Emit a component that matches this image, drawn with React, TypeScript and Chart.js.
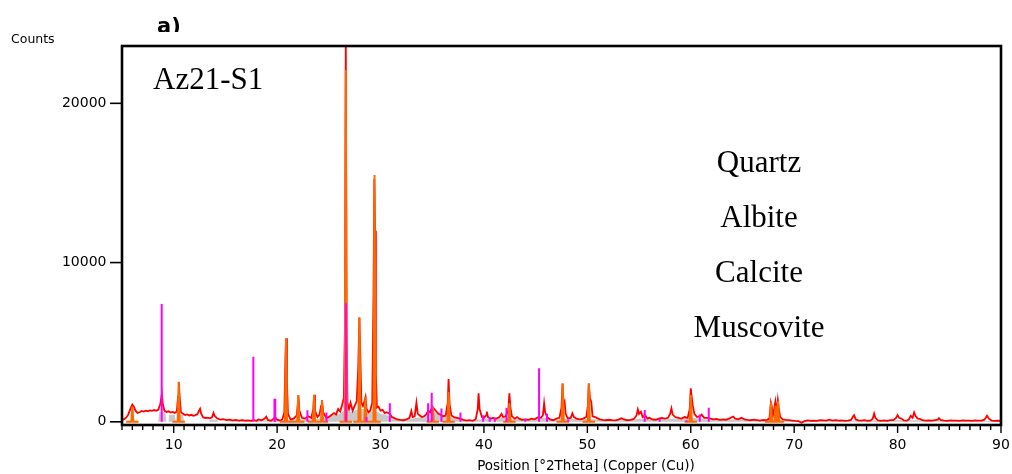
import React, { useEffect, useRef } from "react";
import { Chart, registerables } from "chart.js";

Chart.register(...registerables);

// ---------- data ----------
// measured diffractogram (red): [2theta, counts]
const measuredTrace: [number, number][] = [
  [5.0, 120], [5.2, 170], [5.4, 260], [5.6, 450], [5.8, 800], [6.0, 1080], [6.15, 950], [6.3, 700],
  [6.5, 560], [6.7, 600], [6.9, 680], [7.1, 640], [7.3, 700], [7.5, 660], [7.7, 720], [7.9, 690],
  [8.1, 740], [8.3, 700], [8.5, 760], [8.7, 1100], [8.85, 1750], [8.95, 1100], [9.1, 700], [9.3, 620],
  [9.5, 660], [9.7, 580], [9.9, 620], [10.1, 560], [10.3, 650], [10.42, 1600], [10.5, 2500], [10.58, 1500],
  [10.7, 600], [10.9, 500], [11.1, 430], [11.3, 460], [11.5, 400], [11.7, 440], [11.9, 380], [12.1, 420],
  [12.3, 480], [12.45, 700], [12.55, 820], [12.65, 520], [12.85, 280], [13.1, 240], [13.3, 260], [13.5, 220],
  [13.7, 280], [13.85, 560], [13.95, 380], [14.2, 220], [14.5, 140], [14.8, 170], [15.1, 110], [15.4, 140],
  [15.7, 90], [16.0, 120], [16.3, 80], [16.6, 110], [16.9, 70], [17.2, 90], [17.5, 60], [17.7, 120],
  [18.0, 60], [18.2, 150], [18.5, 100], [18.8, 200], [18.95, 320], [19.1, 120], [19.4, 60], [19.6, 150],
  [19.8, 300], [20.0, 130], [20.3, 80], [20.5, 150], [20.7, 600], [20.8, 3800], [20.86, 5250], [20.95, 2500],
  [21.05, 500], [21.3, 150], [21.6, 200], [21.9, 400], [22.0, 1100], [22.06, 1650], [22.15, 700], [22.4, 250],
  [22.7, 200], [23.0, 350], [23.3, 250], [23.5, 800], [23.58, 1700], [23.66, 700], [23.9, 300], [24.1, 450],
  [24.25, 1000], [24.34, 1350], [24.45, 600], [24.7, 300], [24.9, 250], [25.2, 400], [25.5, 550], [25.7, 450],
  [25.9, 800], [26.1, 650], [26.3, 1100], [26.45, 1500], [26.56, 6000], [26.64, 24500], [26.72, 6000], [26.8, 1200],
  [26.95, 800], [27.1, 1200], [27.3, 700], [27.5, 1000], [27.7, 1300], [27.85, 3500], [27.95, 6550], [28.05, 4000],
  [28.15, 1200], [28.3, 1000], [28.45, 1300], [28.55, 1550], [28.65, 800], [28.85, 600], [29.0, 700], [29.2, 1200],
  [29.32, 8000], [29.4, 15250], [29.48, 12000], [29.55, 3000], [29.65, 900], [29.8, 950], [30.0, 700], [30.2, 750],
  [30.4, 550], [30.6, 600], [30.9, 500], [31.1, 300], [31.3, 250], [31.6, 150], [31.9, 120], [32.2, 100],
  [32.5, 150], [32.8, 250], [32.98, 670], [33.1, 300], [33.3, 350], [33.47, 1200], [33.6, 500], [33.8, 400],
  [34.0, 300], [34.2, 350], [34.4, 450], [34.6, 700], [34.8, 600], [35.0, 950], [35.2, 800], [35.4, 650],
  [35.6, 500], [35.8, 450], [36.0, 350], [36.3, 380], [36.5, 1200], [36.58, 2690], [36.68, 1100], [36.85, 400],
  [37.1, 300], [37.4, 250], [37.7, 200], [38.0, 120], [38.3, 80], [38.6, 100], [38.9, 60], [39.2, 150],
  [39.4, 800], [39.48, 1790], [39.58, 800], [39.8, 300], [40.0, 250], [40.2, 400], [40.28, 640], [40.38, 300],
  [40.6, 200], [40.9, 250], [41.2, 200], [41.5, 300], [41.7, 500], [41.85, 300], [42.1, 350], [42.35, 700],
  [42.46, 1790], [42.56, 900], [42.7, 350], [43.0, 200], [43.2, 300], [43.4, 200], [43.7, 120], [44.0, 150],
  [44.3, 120], [44.6, 200], [44.9, 160], [45.2, 280], [45.5, 250], [45.7, 400], [45.82, 1160], [45.92, 600],
  [46.1, 300], [46.4, 150], [46.7, 100], [47.0, 200], [47.3, 250], [47.5, 900], [47.6, 2410], [47.7, 1100],
  [47.8, 1260], [47.9, 500], [48.1, 220], [48.4, 250], [48.55, 530], [48.7, 300], [49.0, 180], [49.3, 150],
  [49.6, 200], [49.9, 300], [50.05, 1000], [50.14, 2410], [50.25, 1500], [50.38, 1250], [50.5, 350], [50.75, 300],
  [50.9, 250], [51.2, 160], [51.5, 120], [51.8, 100], [52.1, 130], [52.4, 100], [52.7, 90], [53.0, 140],
  [53.3, 220], [53.6, 130], [53.9, 100], [54.2, 120], [54.5, 180], [54.75, 400], [54.88, 780], [55.0, 500],
  [55.18, 630], [55.35, 300], [55.6, 400], [55.8, 200], [56.0, 250], [56.3, 150], [56.6, 130], [56.9, 200],
  [57.2, 250], [57.5, 200], [57.8, 250], [58.0, 500], [58.13, 840], [58.25, 450], [58.5, 300], [58.8, 250],
  [59.1, 200], [59.4, 300], [59.7, 250], [59.9, 800], [60.0, 2100], [60.1, 1500], [60.2, 1000], [60.35, 500],
  [60.6, 300], [60.9, 350], [61.05, 450], [61.3, 250], [61.6, 250], [61.9, 200], [62.2, 150], [62.5, 180],
  [62.8, 120], [63.1, 150], [63.4, 130], [63.7, 200], [64.0, 300], [64.1, 330], [64.3, 200], [64.6, 160],
  [64.9, 250], [65.2, 150], [65.5, 120], [65.8, 100], [66.1, 140], [66.4, 110], [66.7, 80], [67.0, 120],
  [67.3, 90], [67.6, 200], [67.75, 1200], [67.85, 900], [67.95, 400], [68.05, 700], [68.18, 1260], [68.3, 600],
  [68.42, 1360], [68.52, 800], [68.65, 300], [68.9, 150], [69.2, 120], [69.5, 100], [69.8, 80], [70.1, 60],
  [70.4, 50], [70.7, -60], [71.0, 40], [71.3, 90], [71.6, 60], [71.9, 80], [72.2, 60], [72.5, 110],
  [72.8, 90], [73.1, 70], [73.4, 130], [73.7, 80], [74.0, 100], [74.3, 70], [74.6, 90], [74.9, 60],
  [75.2, 80], [75.5, 120], [75.7, 350], [75.8, 420], [75.95, 150], [76.2, 90], [76.5, 70], [76.8, 100],
  [77.1, 60], [77.4, 90], [77.6, 200], [77.73, 520], [77.85, 250], [78.1, 90], [78.4, 60], [78.7, 90],
  [79.0, 60], [79.3, 100], [79.6, 110], [79.85, 250], [80.0, 420], [80.15, 250], [80.37, 200], [80.6, 90],
  [80.9, 80], [81.1, 150], [81.27, 380], [81.45, 260], [81.6, 590], [81.75, 350], [81.95, 200], [82.15, 180],
  [82.4, 100], [82.7, 80], [83.0, 90], [83.3, 70], [83.6, 100], [83.9, 140], [84.0, 230], [84.15, 120],
  [84.5, 80], [84.8, 60], [85.1, 90], [85.4, 70], [85.7, 80], [86.0, 60], [86.3, 90], [86.6, 70],
  [86.9, 80], [87.2, 60], [87.5, 90], [87.8, 70], [88.1, 80], [88.4, 130], [88.65, 380], [88.85, 180],
  [89.1, 80], [89.4, 60], [89.7, 70], [90.0, 60],
];

// calculated / background profile (grey area)
const calculatedTrace: [number, number][] = [
  [5.0, 0], [8.5, 0], [8.6, 600], [9.2, 600], [9.3, 0], [9.5, 0], [9.55, 450], [10.1, 450], [10.2, 0],
  [10.35, 0], [10.4, 450], [10.9, 450], [11.0, 0], [13.4, 0], [13.5, 150], [14.2, 150], [14.3, 0], [15.0, 0],
  [15.5, 60], [17.5, 60], [18.0, 80], [20.5, 80], [21.0, 100], [22.0, 150], [23.0, 150], [24.0, 200],
  [25.0, 300], [25.5, 450], [26.0, 500], [26.5, 700], [27.0, 600], [27.5, 700], [28.0, 800], [28.5, 800],
  [29.0, 600], [29.5, 700], [30.0, 500], [30.5, 450], [31.0, 300], [32.0, 150], [33.0, 200], [34.0, 300],
  [34.5, 400], [35.0, 700], [35.5, 500], [36.0, 350], [36.5, 350], [37.0, 250], [38.0, 150], [39.0, 100],
  [40.0, 200], [41.0, 200], [42.0, 300], [43.0, 200], [44.0, 120], [45.0, 200], [46.0, 250], [47.0, 150],
  [48.0, 200], [49.0, 150], [50.0, 200], [51.0, 150], [52.0, 80], [54.0, 100], [55.0, 200], [56.0, 150],
  [58.0, 200], [60.0, 250], [61.0, 200], [62.0, 120], [64.0, 150], [66.0, 100], [68.0, 200], [69.0, 100],
  [72.0, 50], [76.0, 60], [80.0, 100], [82.0, 100], [84.0, 70], [88.0, 60], [90.0, 50],
];

// reference peaks: quartz / calcite / albite (orange) [2theta, counts]
const orangePeaks: [number, number][] = [
  [6.0, 950], [10.48, 2520], [20.86, 5250], [22.04, 1680], [23.57, 1680], [24.34, 1320], [26.64, 22100],
  [27.96, 6550], [28.54, 1570], [29.42, 15500], [35.05, 950], [36.58, 1890], [42.46, 1160], [47.62, 2410],
  [50.14, 2410], [60.0, 1680], [67.76, 1220], [68.2, 1000], [68.44, 1300],
];

// reference peaks: muscovite (magenta) [2theta, counts]
const magentaPeaks: [number, number][] = [
  [8.84, 7400], [17.7, 4090], [19.74, 1450], [19.82, 1450], [22.93, 720], [24.77, 590], [26.66, 7450],
  [28.64, 300], [30.9, 1170], [34.6, 1170], [34.95, 1830], [35.89, 840], [37.73, 590], [39.92, 420],
  [40.56, 300], [41.05, 250], [42.18, 860], [44.0, 200], [45.33, 3360], [46.1, 500], [48.15, 150],
  [55.55, 740], [57.0, 200], [59.6, 100], [60.87, 460], [61.74, 880],
];

const xTickValues = [10, 20, 30, 40, 50, 60, 70, 80, 90];
const yTickValues = [0, 10000, 20000];
const phaseLabels = ["Quartz", "Albite", "Calcite", "Muscovite"];
const sampleName = "Az21-S1";
const panelLabel = "a)";
const yAxisLabel = "Counts";
const xAxisLabel = "Position [°2Theta] (Copper (Cu))";

const SANS = "'DejaVu Sans', Verdana, sans-serif";
const SERIF = "'Liberation Serif', 'Times New Roman', serif";

function buildProfiles(peaks: [number, number][], halfBase: number, halfPeak: number) {
  const pts: { x: number; y: number | null }[] = [];
  for (const [p, h] of peaks) {
    pts.push(
      { x: p - halfBase, y: 0 },
      { x: p - halfPeak, y: 0 },
      { x: p, y: h },
      { x: p + halfPeak, y: 0 },
      { x: p + halfBase, y: 0 },
      { x: p + halfBase, y: null }
    );
  }
  return pts;
}

function buildSticks(peaks: [number, number][]) {
  const pts: { x: number; y: number | null }[] = [];
  for (const [p, h] of peaks) {
    pts.push({ x: p, y: 0 }, { x: p, y: h }, { x: p, y: null });
  }
  return pts;
}

const overlayPlugin = {
  id: "overlay",
  afterDraw(chart: any) {
    const { ctx, chartArea: ca, scales } = chart;
    const xs = scales.x;
    const ys = scales.y;
    ctx.save();
    ctx.strokeStyle = "#000";
    ctx.fillStyle = "#000";
    // x ticks (minor every degree, major every 10)
    ctx.lineWidth = 1.4;
    for (let v = 5; v <= 90; v++) {
      const px = xs.getPixelForValue(v);
      const len = xTickValues.includes(v) ? 8 : 5;
      ctx.beginPath();
      ctx.moveTo(px, ca.bottom);
      ctx.lineTo(px, ca.bottom + len);
      ctx.stroke();
    }
    // y ticks
    ctx.lineWidth = 1.6;
    for (const v of yTickValues) {
      const py = ys.getPixelForValue(v);
      ctx.beginPath();
      ctx.moveTo(ca.left - 12, py);
      ctx.lineTo(ca.left, py);
      ctx.stroke();
    }
    // frame
    ctx.lineWidth = 2.6;
    ctx.strokeRect(ca.left, ca.top, ca.right - ca.left, ca.bottom - ca.top);

    // texts
    ctx.textBaseline = "alphabetic";
    ctx.textAlign = "left";
    ctx.font = `12.5px ${SANS}`;
    ctx.fillText(yAxisLabel, 11, 43);

    ctx.save();
    ctx.beginPath();
    ctx.rect(0, 0, 400, 32);
    ctx.clip();
    ctx.font = `bold 21px ${SANS}`;
    ctx.fillText(panelLabel, 157, 33);
    ctx.restore();

    ctx.font = `31px ${SERIF}`;
    ctx.fillText(sampleName, 153, 89);

    ctx.textAlign = "center";
    const baselines = [171.5, 227, 282, 337];
    phaseLabels.forEach((t, i) => ctx.fillText(t, 759, baselines[i]));

    ctx.font = `13.5px ${SANS}`;
    ctx.fillText(xAxisLabel, 586, 470);
    ctx.restore();
  },
};

export default function App() {
  const ref = useRef<HTMLCanvasElement>(null);

  useEffect(() => {
    const canvas = ref.current;
    if (!canvas) return;
    const chart = new Chart(canvas, {
      type: "line",
      data: {
        datasets: [
          {
            label: "Muscovite",
            data: buildSticks(magentaPeaks) as any,
            borderColor: "#ff00ff",
            borderWidth: 2,
            pointRadius: 0,
            spanGaps: false,
            order: 0,
          },
          {
            label: "Quartz / Calcite",
            data: buildProfiles(orangePeaks, 0.6, 0.1) as any,
            borderColor: "#ff6a00",
            borderWidth: 2,
            pointRadius: 0,
            spanGaps: false,
            order: 1,
          },
          {
            label: "Measured",
            data: measuredTrace.map(([x, y]) => ({ x, y })) as any,
            borderColor: "#ff0000",
            borderWidth: 1.8,
            pointRadius: 0,
            order: 2,
          },
          {
            label: "Calculated",
            data: calculatedTrace.map(([x, y]) => ({ x, y })) as any,
            borderColor: "rgba(0,0,0,0)",
            borderWidth: 0,
            backgroundColor: "#c8c8c8",
            fill: "origin",
            pointRadius: 0,
            order: 3,
          },
        ],
      },
      options: {
        animation: false,
        responsive: false,
        devicePixelRatio: 1,
        events: [],
        layout: { padding: { top: 46, right: 11, left: 0, bottom: 0 } },
        plugins: {
          legend: { display: false },
          tooltip: { enabled: false },
          title: { display: false },
        },
        elements: { line: { tension: 0 } },
        scales: {
          x: {
            type: "linear",
            min: 5,
            max: 90,
            afterBuildTicks: (scale: any) => {
              scale.ticks = xTickValues.map((v) => ({ value: v }));
            },
            afterFit: (scale: any) => {
              scale.height = 49;
              scale.paddingLeft = 0;
              scale.paddingRight = 0;
            },
            ticks: {
              autoSkip: false,
              maxRotation: 0,
              padding: 4.5,
              color: "#000",
              font: { family: SANS, size: 14 },
              callback: (v: any) => String(v),
            },
            grid: {
              drawOnChartArea: false,
              drawTicks: true,
              tickLength: 7,
              color: "rgba(0,0,0,0)",
            },
            border: { display: false },
          },
          y: {
            type: "linear",
            min: -200,
            max: 23600,
            afterBuildTicks: (scale: any) => {
              scale.ticks = yTickValues.map((v) => ({ value: v }));
            },
            afterFit: (scale: any) => {
              scale.width = 122;
              scale.paddingTop = 0;
              scale.paddingBottom = 0;
            },
            ticks: {
              padding: 5.5,
              color: "#000",
              font: { family: SANS, size: 14 },
              callback: (v: any) => String(v),
            },
            grid: {
              drawOnChartArea: false,
              drawTicks: true,
              tickLength: 10,
              color: "rgba(0,0,0,0)",
            },
            border: { display: false },
          },
        },
      },
      plugins: [overlayPlugin],
    });
    return () => chart.destroy();
  }, []);

  return (
    <div style={{ position: "fixed", left: 0, top: 0, width: 1012, height: 474, background: "#fff" }}>
      <canvas ref={ref} width={1012} height={474} style={{ display: "block", width: 1012, height: 474 }} />
    </div>
  );
}
